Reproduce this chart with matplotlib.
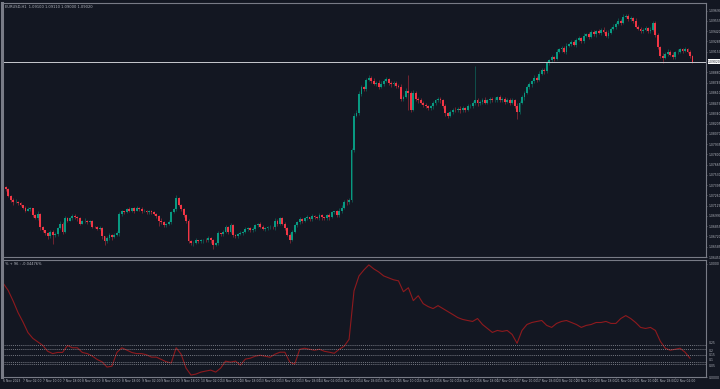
import numpy as np
import matplotlib.pyplot as plt
from matplotlib.transforms import blended_transform_factory

symbol = "EURUSD,H1"
first_open = 1.0744

# hourly closes, 6 Nov 18:00 .. 22 Nov 09:00 (weekend skipped)
close = [
    1.0737, 1.0734, 1.0725, 1.0720, 1.0717, 1.0718, 1.0716, 1.0713, 1.0710, 1.0706,
    1.0708, 1.0709, 1.0700, 1.0696, 1.0702, 1.0684, 1.0680, 1.0676, 1.0672, 1.0678,
    1.0674, 1.0675, 1.0683, 1.0689, 1.0678, 1.0696, 1.0693, 1.0696, 1.0699, 1.0697,
    1.0696, 1.0689, 1.0692, 1.0693, 1.0691, 1.0692, 1.0685, 1.0684, 1.0682, 1.0683,
    1.0672, 1.0666, 1.0670, 1.0674, 1.0671, 1.0674, 1.0676, 1.0701, 1.0705, 1.0704,
    1.0708, 1.0706, 1.0709, 1.0706, 1.0710, 1.0708, 1.0705, 1.0706, 1.0704, 1.0705,
    1.0704, 1.0701, 1.0699, 1.0693, 1.0691, 1.0687, 1.0689, 1.0691, 1.0704, 1.0708,
    1.0722, 1.0714, 1.0708, 1.0700, 1.0693, 1.0666, 1.0663, 1.0664, 1.0667, 1.0666,
    1.0667, 1.0668, 1.0667, 1.0670, 1.0667, 1.0661, 1.0663, 1.0676, 1.0675, 1.0678,
    1.0684, 1.0678, 1.0687, 1.0674, 1.0672, 1.0675, 1.0676, 1.0678, 1.0682, 1.0683,
    1.0680, 1.0682, 1.0687, 1.0689, 1.0684, 1.0682, 1.0683, 1.0684, 1.0685, 1.0684,
    1.0693, 1.0688, 1.0696, 1.0689, 1.0683, 1.0674, 1.0668, 1.0678, 1.0687, 1.0691,
    1.0695, 1.0692, 1.0696, 1.0697, 1.0695, 1.0699, 1.0697, 1.0696, 1.0700, 1.0697,
    1.0696, 1.0700, 1.0697, 1.0704, 1.0705, 1.0700, 1.0705, 1.0710, 1.0718, 1.0717,
    1.0720, 1.0786, 1.0831, 1.0835, 1.0859, 1.0868, 1.0866, 1.0878, 1.0881, 1.0877,
    1.0873, 1.0874, 1.0869, 1.0873, 1.0877, 1.0879, 1.0874, 1.0872, 1.0874, 1.0870,
    1.0869, 1.0853, 1.0856, 1.0864, 1.0861, 1.0839, 1.0861, 1.0853, 1.0851, 1.0848,
    1.0845, 1.0843, 1.0841, 1.0843, 1.0847, 1.0851, 1.0853, 1.0851, 1.0843, 1.0834,
    1.0831, 1.0836, 1.0839, 1.0838, 1.0840, 1.0838, 1.0841, 1.0839, 1.0843, 1.0844,
    1.0847, 1.0852, 1.0847, 1.0849, 1.0852, 1.0848, 1.0851, 1.0853, 1.0851, 1.0852,
    1.0855, 1.0851, 1.0853, 1.0849, 1.0852, 1.0848, 1.0851, 1.0844, 1.0836, 1.0848,
    1.0855, 1.0861, 1.0868, 1.0872, 1.0876, 1.0881, 1.0878, 1.0886, 1.0891, 1.0889,
    1.0900, 1.0904, 1.0908, 1.0906, 1.0915, 1.0918, 1.0920, 1.0915, 1.0923, 1.0925,
    1.0928, 1.0924, 1.0931, 1.0933, 1.0929, 1.0936, 1.0938, 1.0935, 1.0941, 1.0938,
    1.0942, 1.0940, 1.0944, 1.0941, 1.0936, 1.0940, 1.0945, 1.0948, 1.0952, 1.0956,
    1.0953, 1.0961, 1.0962, 1.0958, 1.0959, 1.0956, 1.0948, 1.0945, 1.0942, 1.0944,
    1.0946, 1.0942, 1.0944, 1.0953, 1.0937, 1.0921, 1.0910, 1.0907, 1.0912, 1.0915,
    1.0911, 1.0908, 1.0914, 1.0915, 1.0918, 1.0916, 1.0918, 1.0915, 1.0910, 1.0902,
]

# wick lengths in pips beyond the body
wick_hi = [
    2, 1, 2, 1, 2, 3, 1, 2, 1, 2, 3, 2, 1, 2, 3, 1, 2, 1, 2, 3,
    2, 3, 2, 4, 2, 3, 2, 1, 3, 2, 2, 1, 2, 3, 1, 2, 2, 1, 2, 3,
    2, 1, 3, 2, 1, 2, 3, 3, 2, 1, 2, 3, 1, 2, 2, 1, 3, 2, 1, 2,
    2, 1, 2, 1, 3, 2, 1, 3, 2, 2, 5, 2, 1, 2, 1, 2, 1, 2, 3, 1,
    2, 1, 2, 3, 1, 2, 2, 3, 1, 2, 3, 2, 3, 2, 1, 2, 3, 1, 2, 2,
    1, 3, 2, 1, 2, 3, 1, 2, 2, 1, 3, 2, 2, 1, 2, 1, 2, 3, 2, 1,
    2, 1, 2, 3, 1, 2, 1, 2, 3, 2, 1, 2, 3, 2, 1, 2, 4, 3, 2, 3,
    2, 3, 4, 3, 4, 3, 2, 3, 4, 2, 3, 2, 4, 3, 2, 3, 2, 3, 2, 3,
    2, 3, 2, 3, 21, 3, 4, 3, 2, 3, 2, 3, 2, 2, 3, 2, 3, 2, 2, 3,
    2, 3, 2, 3, 2, 3, 2, 1, 3, 2, 3, 44, 2, 3, 2, 3, 2, 3, 2, 3,
    2, 3, 2, 3, 2, 2, 3, 2, 3, 2, 3, 2, 3, 3, 2, 3, 2, 3, 3, 2,
    3, 2, 3, 2, 3, 2, 3, 2, 3, 2, 2, 3, 2, 3, 2, 3, 2, 3, 2, 3,
    2, 3, 2, 3, 2, 3, 2, 3, 2, 3, 2, 3, 3, 2, 3, 2, 3, 2, 3, 2,
    3, 2, 3, 3, 2, 3, 2, 3, 2, 3, 2, 3, 2, 3, 2, 2, 3, 2, 2, 1,
]
wick_lo = [
    2, 2, 1, 2, 3, 1, 2, 1, 2, 2, 1, 3, 2, 1, 2, 3, 2, 2, 3, 2,
    12, 3, 2, 1, 3, 2, 2, 1, 2, 2, 3, 2, 1, 2, 2, 3, 2, 1, 2, 2,
    3, 5, 2, 2, 3, 1, 2, 3, 2, 2, 1, 2, 2, 3, 1, 2, 2, 1, 2, 2,
    2, 1, 3, 7, 2, 2, 3, 2, 2, 1, 2, 2, 3, 2, 3, 3, 2, 3, 2, 2,
    2, 3, 2, 2, 3, 6, 2, 2, 3, 2, 2, 3, 2, 3, 2, 2, 1, 2, 2, 3,
    2, 2, 3, 2, 1, 2, 3, 2, 2, 2, 3, 2, 1, 2, 3, 2, 4, 2, 2, 3,
    2, 2, 1, 2, 3, 2, 2, 1, 2, 3, 2, 2, 3, 1, 2, 3, 2, 2, 2, 3,
    2, 2, 3, 2, 3, 2, 3, 2, 2, 3, 2, 3, 3, 2, 3, 2, 3, 3, 2, 3,
    2, 3, 3, 2, 22, 3, 2, 3, 3, 2, 3, 2, 3, 2, 3, 2, 2, 3, 2, 3,
    3, 2, 3, 2, 2, 3, 2, 3, 2, 2, 3, 2, 3, 2, 3, 2, 2, 3, 2, 2,
    3, 2, 2, 3, 2, 3, 2, 3, 10, 3, 2, 3, 2, 2, 3, 2, 3, 2, 2, 3,
    2, 3, 2, 3, 2, 2, 3, 2, 3, 2, 3, 2, 3, 2, 3, 2, 2, 3, 2, 2,
    3, 2, 3, 2, 2, 3, 2, 2, 3, 2, 3, 2, 2, 3, 2, 3, 2, 2, 3, 2,
    2, 3, 2, 2, 3, 2, 3, 7, 2, 3, 2, 2, 3, 2, 2, 3, 2, 2, 3, 2,
]

# indicator, one value every 2 bars
ind_step = 2
indicator = [
    0.80, 0.74, 0.65, 0.55, 0.47, 0.38, 0.33, 0.30, 0.27, 0.22,
    0.20, 0.21, 0.21, 0.27, 0.25, 0.25, 0.21, 0.20, 0.18, 0.15,
    0.13, 0.085, 0.093, 0.21, 0.25, 0.23, 0.21, 0.20, 0.20, 0.19,
    0.17, 0.17, 0.15, 0.13, 0.12, 0.25, 0.195, 0.076, 0.017, 0.025,
    0.042, 0.051, 0.059, 0.042, 0.076, 0.136, 0.127, 0.136, 0.102, 0.153,
    0.161, 0.178, 0.186, 0.178, 0.169, 0.195, 0.212, 0.212, 0.127, 0.110,
    0.237, 0.246, 0.237, 0.229, 0.237, 0.220, 0.212, 0.203, 0.237, 0.263,
    0.322, 0.737, 0.864, 0.915, 0.958, 0.924, 0.898, 0.864, 0.847, 0.831,
    0.822, 0.729, 0.763, 0.653, 0.695, 0.627, 0.602, 0.585, 0.610, 0.585,
    0.559, 0.534, 0.508, 0.492, 0.483, 0.475, 0.500, 0.449, 0.415, 0.381,
    0.398, 0.390, 0.398, 0.364, 0.288, 0.398, 0.449, 0.466, 0.475, 0.483,
    0.441, 0.424, 0.458, 0.475, 0.483, 0.466, 0.449, 0.424, 0.441, 0.449,
    0.466, 0.466, 0.475, 0.458, 0.458, 0.500, 0.525, 0.500, 0.466, 0.424,
    0.415, 0.424, 0.398, 0.305, 0.246, 0.229, 0.237, 0.246, 0.212, 0.161,
]
ind_levels = [0.271, 0.243, 0.186, 0.130, 0.110]
ind_level_labels = ["0.25", "0.2", "0.15", "0.1", "0.05"]
ind_label_va = ["bottom", "top", "center", "bottom", "top"]
ind_title = "% + 96 : -0.04476%"

date_step = 8
date_labels = [
    "6 Nov 2023", "7 Nov 02:00", "7 Nov 10:00", "7 Nov 18:00", "8 Nov 02:00",
    "8 Nov 10:00", "8 Nov 18:00", "9 Nov 02:00", "9 Nov 10:00", "9 Nov 18:00",
    "10 Nov 02:00", "10 Nov 10:00", "10 Nov 18:00", "13 Nov 02:00", "13 Nov 10:00",
    "13 Nov 18:00", "14 Nov 02:00", "14 Nov 10:00", "14 Nov 18:00", "15 Nov 02:00",
    "15 Nov 10:00", "15 Nov 18:00", "16 Nov 02:00", "16 Nov 10:00", "16 Nov 18:00",
    "17 Nov 02:00", "17 Nov 10:00", "17 Nov 18:00", "20 Nov 02:00", "20 Nov 10:00",
    "20 Nov 18:00", "21 Nov 02:00", "21 Nov 10:00", "21 Nov 18:00", "22 Nov 02:00",
]
price_tick_top = 1.09690
price_tick_step = 0.00135

BG = "#131722"
UP = "#089981"
DN = "#f23645"
GRID = "#787b86"
TXT = "#b2b5be"
FS = 2.6
FS_AX = 2.2

close = np.array(close)
opn = np.r_[first_open, close[:-1]]
pip = 0.0001
high = np.maximum(opn, close) + np.array(wick_hi) * pip
low = np.minimum(opn, close) - np.array(wick_lo) * pip
x = np.arange(len(close))

fig = plt.figure(figsize=(7.2, 3.89), dpi=100, facecolor=BG)
ax = fig.add_axes([0.0028, 0.3393, 0.9778, 0.6530], facecolor=BG)
axi = fig.add_axes([0.0028, 0.0308, 0.9778, 0.3008], facecolor=BG, sharex=ax)

# candles
colors = np.where(close >= opn, UP, DN)
ax.vlines(x, low, high, colors=colors, lw=0.6, alpha=0.5)
body = np.maximum(np.abs(close - opn), 0.00005)
ax.bar(x, body, bottom=np.minimum(opn, close), width=0.75, color=colors, lw=0)

ax.set_xlim(-0.5, 284.5)
ax.set_ylim(1.06461, 1.09791)

last = close[-1]
ax.axhline(last, color="#c8cad0", lw=0.7)
ticks = [price_tick_top - k * price_tick_step for k in range(25)]
ticks = [t for t in ticks if abs(t - last) > 0.0005]
ax.yaxis.tick_right()
ax.set_yticks(ticks)
ax.set_yticklabels([f"{t:.5f}" for t in ticks])
tr = blended_transform_factory(ax.transAxes, ax.transData)
ax.text(1.003, last, f"{last:.5f}", transform=tr, fontsize=FS_AX, color="#131722",
        va="center", ha="left",
        bbox=dict(boxstyle="square,pad=0.15", fc="white", ec="none"))
ax.text(0.004, 0.994, f"{symbol}  {opn[-1]:.5f} {high[-1]:.5f} {low[-1]:.5f} {last:.5f}",
        transform=ax.transAxes, fontsize=FS, color=TXT, va="top", ha="left")

# indicator
xi = np.arange(len(indicator)) * ind_step
axi.plot(xi, indicator, color="#8e1a1e", lw=0.8)
tri = blended_transform_factory(axi.transAxes, axi.transData)
for lv, lab, va in zip(ind_levels, ind_level_labels, ind_label_va):
    axi.axhline(lv, color="#9598a1", lw=0.5, ls=(0, (1.5, 1.5)))
    axi.text(1.004, lv, lab, transform=tri, fontsize=FS_AX, color=TXT,
             ha="left", va=va)
axi.set_ylim(0, 1)
axi.yaxis.tick_right()
axi.set_yticks([0.97, 0.0])
axi.set_yticklabels(["1.0000", "0.0000"])
axi.text(0.004, 0.985, ind_title, transform=axi.transAxes, fontsize=FS,
         color=TXT, va="top", ha="left")

axi.set_xticks(np.arange(len(date_labels)) * date_step)
axi.set_xticklabels(date_labels, ha="left")
ax.tick_params(axis="x", bottom=False, labelbottom=False)

for a in (ax, axi):
    a.tick_params(colors=GRID, labelcolor=TXT, labelsize=FS_AX, length=1.0,
                  width=0.5, pad=0.6)
    for side, sp in a.spines.items():
        sp.set_color(GRID)
        sp.set_linewidth(0.8)
    a.spines["left"].set_linewidth(2.2)

fig.savefig("out.png", dpi=100, facecolor=BG)
